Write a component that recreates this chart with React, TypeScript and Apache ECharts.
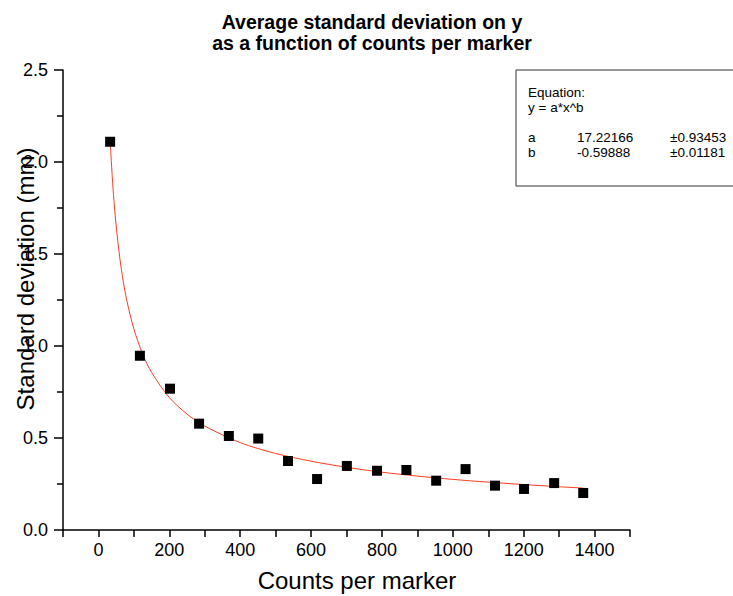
import React, { useEffect, useRef } from "react";
import * as echarts from "echarts";

const titleLines = ["Average standard deviation on y", "as a function of counts per marker"];
const xAxisName = "Counts per marker";
const yAxisName = "Standard deviation (mm)";

// measured points
const countsPerMarker = [33, 117, 202, 284, 368, 451, 535, 617, 701, 786, 869, 953, 1036, 1119, 1201, 1286, 1368];
const stdDev = [2.11, 0.947, 0.768, 0.578, 0.511, 0.497, 0.375, 0.277, 0.348, 0.322, 0.326, 0.268, 0.331, 0.241, 0.223, 0.255, 0.201];

// fitted curve
const fitX = [33, 35, 40, 45, 50, 60, 70, 80, 100, 125, 150, 200, 250, 300, 400, 500, 600, 700, 800, 900, 1000, 1100, 1200, 1300, 1368];
const fitY = [2.12, 2.048, 1.889, 1.761, 1.654, 1.483, 1.351, 1.248, 1.092, 0.955, 0.856, 0.72, 0.63, 0.565, 0.475, 0.416, 0.374, 0.341, 0.314, 0.293, 0.275, 0.26, 0.247, 0.235, 0.228];

const eqLabels = ["Equation:", "y = a*x^b"];
const paramNames = ["a", "b"];
const paramValues = ["17.22166", "-0.59888"];
const paramErrors = ["\u00b10.93453", "\u00b10.01181"];

const FONT = "'Liberation Sans', Arial, sans-serif";

export default function App() {
  const ref = useRef<HTMLDivElement>(null);
  useEffect(() => {
    if (!ref.current) return;
    const chart = echarts.init(ref.current, null, { renderer: "svg" });
    const txt = (x: number, y: number, text: string) => ({
      type: "text",
      x,
      y,
      z: 20,
      style: { text, font: `13.5px ${FONT}`, fill: "#000", verticalAlign: "middle" },
    });
    const boxTexts: any[] = [txt(528, 92, eqLabels[0]), txt(528, 107.5, eqLabels[1])];
    paramNames.forEach((n, i) => {
      const y = 137 + i * 15.5;
      boxTexts.push(txt(528, y, n));
      boxTexts.push(txt(577, y, paramValues[i]));
      boxTexts.push(txt(670, y, paramErrors[i]));
    });
    chart.setOption({
      animation: false,
      backgroundColor: "#fff",
      textStyle: { fontFamily: FONT },
      grid: { left: 63, right: 103, top: 70, bottom: 66, outerBoundsMode: "none", containLabel: false },
      xAxis: {
        type: "value",
        min: -100,
        max: 1500,
        interval: 100,
        axisLine: { onZero: false, lineStyle: { color: "#000", width: 1.5 } },
        axisTick: { length: 7, lineStyle: { color: "#000", width: 1.5 } },
        axisLabel: {
          fontSize: 18,
          color: "#000",
          margin: 11,
          showMinLabel: true,
          showMaxLabel: true,
          formatter: (v: number) => (v >= 0 && v <= 1400 && v % 200 === 0 ? String(v) : ""),
        },
        splitLine: { show: false },
      },
      yAxis: {
        type: "value",
        min: 0,
        max: 2.5,
        interval: 0.5,
        axisLine: { show: true, onZero: false, lineStyle: { color: "#000", width: 1.5 } },
        axisTick: { show: true, length: 9, lineStyle: { color: "#000", width: 1.5 } },
        minorTick: { show: true, splitNumber: 2, length: 6, lineStyle: { color: "#000", width: 1.5 } },
        axisLabel: { fontSize: 18, color: "#000", margin: 15, formatter: (v: number) => v.toFixed(1) },
        splitLine: { show: false },
      },
      series: [
        {
          type: "line",
          data: fitX.map((x, i) => [x, fitY[i]]),
          smooth: 0.3,
          showSymbol: false,
          symbol: "none",
          lineStyle: { color: "#ff3b1f", width: 1 },
          z: 2,
        },
        {
          type: "scatter",
          data: countsPerMarker.map((x, i) => [x, stdDev[i]]),
          symbol: "rect",
          symbolSize: 10,
          itemStyle: { color: "#000", opacity: 1 },
          z: 3,
        },
      ],
      graphic: [
        {
          type: "text",
          x: 372,
          y: 22,
          style: { text: titleLines[0], font: `bold 19.5px ${FONT}`, fill: "#000", align: "center", verticalAlign: "middle" },
        },
        {
          type: "text",
          x: 372,
          y: 43,
          style: { text: titleLines[1], font: `bold 19.5px ${FONT}`, fill: "#000", align: "center", verticalAlign: "middle" },
        },
        {
          type: "text",
          x: 357,
          y: 580,
          style: { text: xAxisName, font: `24px ${FONT}`, fill: "#000", align: "center", verticalAlign: "middle" },
        },
        {
          type: "text",
          x: 25,
          y: 279,
          rotation: Math.PI / 2,
          style: { text: yAxisName, font: `24px ${FONT}`, fill: "#000", align: "center", verticalAlign: "middle" },
        },
        {
          type: "rect",
          z: 10,
          shape: { x: 516, y: 70, width: 240, height: 116 },
          style: { fill: "#fff", stroke: "#333", lineWidth: 1 },
        },
        ...boxTexts,
      ],
    });
    return () => chart.dispose();
  }, []);
  return <div ref={ref} style={{ position: "fixed", left: 0, top: 0, width: 733, height: 596 }} />;
}
